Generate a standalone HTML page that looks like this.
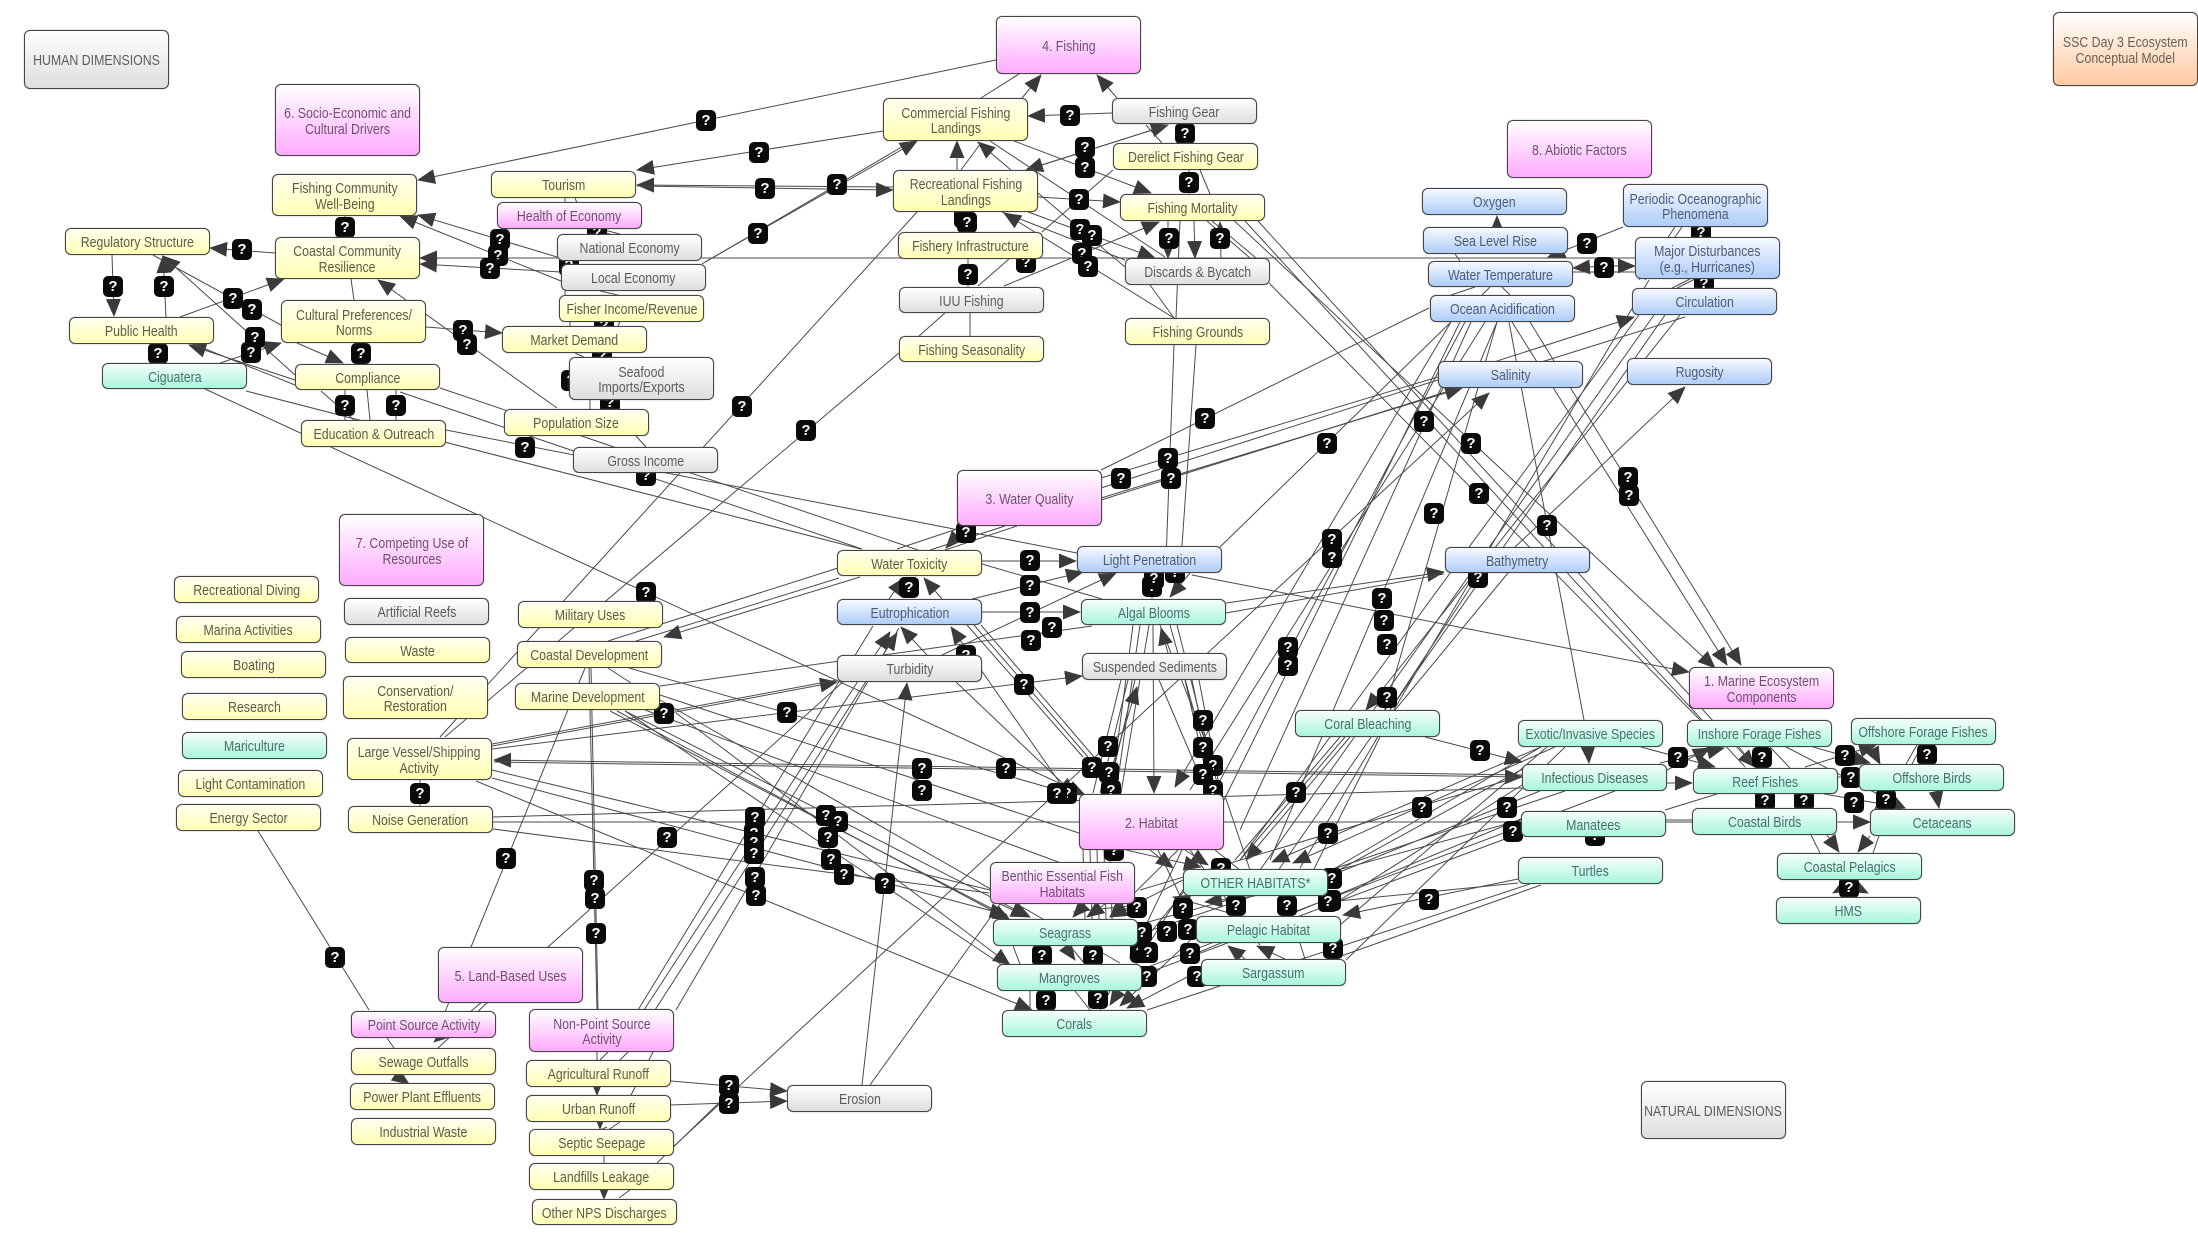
<!DOCTYPE html>
<html><head><meta charset="utf-8"><title>SSC Day 3 Ecosystem Conceptual Model</title>
<style>
html,body{margin:0;padding:0;background:#fff}
#c{position:relative;width:2198px;height:1238px;overflow:hidden;background:#fff;font-family:"Liberation Sans",sans-serif}
svg{position:absolute;left:0;top:0}
svg path.l{fill:none;stroke:#4a4a4a;stroke-width:1}
b{position:absolute;width:20px;height:21px;margin:-10px 0 0 -10px;background:#0a0a0a;border-radius:5px;color:#fff;font:bold 15px/21px "Liberation Sans",sans-serif;text-align:center}
.n{position:absolute;box-sizing:border-box;border:1px solid #444;border-radius:6px;display:flex;align-items:center;justify-content:center;text-align:center;font-family:"Liberation Sans",sans-serif;font-size:14.7px;line-height:15.5px;padding-top:5px;box-shadow:0 0 1px #777}
.n i{display:block;font-style:normal;white-space:nowrap;transform:scaleX(.84)}
.y{background:linear-gradient(#fffff0,#ffffb4);color:#5c5c48}
.g{background:linear-gradient(#fff,#dedede);color:#5c5c5c}
.t{background:linear-gradient(#f4fffa,#a9f5de);color:#47716a}
.u{background:linear-gradient(#f6f9ff,#aecdf9);color:#4c5c76}
.p{background:linear-gradient(#fff,#ffabff);color:#705070}
.o{background:linear-gradient(#fff,#ffc9a2);color:#6a6056}
</style></head><body><div id="c">
<svg width="2198" height="1238" viewBox="0 0 2198 1238">
<defs><marker id="a" markerUnits="userSpaceOnUse" markerWidth="18" markerHeight="15" refX="17" refY="7.5" orient="auto"><path d="M0 0L18 7.5L0 15z" fill="#3a3a3a"/></marker></defs>
<g>
<path class="l" marker-end="url(#a)" d="M996 60L418 180"/>
<path class="l" marker-end="url(#a)" d="M883 131L637 170"/>
<path class="l" marker-end="url(#a)" d="M893 187L637 185"/>
<path class="l" marker-end="url(#a)" d="M637 186L893 190"/>
<path class="l" marker-end="url(#a)" d="M705 262L917 141"/>
<path class="l" d="M702 264L912 141"/>
<path class="l" marker-end="url(#a)" d="M557 257L418 215"/>
<path class="l" marker-end="url(#a)" d="M561 281L400 216"/>
<path class="l" marker-end="url(#a)" d="M561 272L420 264"/>
<path class="l" marker-end="url(#a)" d="M1635 258L420 258"/>
<path class="l" marker-end="url(#a)" d="M275 253L210 248"/>
<path class="l" marker-end="url(#a)" d="M112 255L114 316"/>
<path class="l" marker-end="url(#a)" d="M166 317L163 256"/>
<path class="l" marker-end="url(#a)" d="M180 317L284 279"/>
<path class="l" marker-end="url(#a)" d="M295 375L163 256"/>
<path class="l" d="M153 255L281 325"/>
<path class="l" marker-end="url(#a)" d="M297 343L343 363"/>
<path class="l" marker-end="url(#a)" d="M220 363L281 343"/>
<path class="l" marker-end="url(#a)" d="M295 380L189 345"/>
<path class="l" d="M295 385L193 344"/>
<path class="l" d="M351 279L354 300"/>
<path class="l" d="M345 216L345 237"/>
<path class="l" d="M158 344L158 363"/>
<path class="l" marker-end="url(#a)" d="M426 327L502 333"/>
<path class="l" marker-end="url(#a)" d="M557 408L378 280"/>
<path class="l" d="M321 391L354 420M367 390L370 420M345 390L345 420M396 390L396 420"/>
<path class="l" d="M246 391L861 549"/>
<path class="l" d="M400 392L862 549"/>
<path class="l" d="M440 388L918 550"/>
<path class="l" d="M446 430L1077 553"/>
<path class="l" marker-end="url(#a)" d="M205 389L1085 795"/>
<path class="l" d="M565 198L565 202M575 198L590 234M590 229L610 234M600 229L620 234M565 291L565 300M570 322L570 330M600 291L640 300M620 322L610 340M610 353L600 360M590 400L590 410M575 353L590 360M636 436L646 447"/>
<!-- fishing -->
<path class="l" marker-end="url(#a)" d="M1022 98L1041 75"/>
<path class="l" d="M1019 74L981 98"/>
<path class="l" marker-end="url(#a)" d="M1117 98L1097 75"/>
<path class="l" marker-end="url(#a)" d="M1112 113L1028 116"/>
<path class="l" marker-end="url(#a)" d="M1026 170L1168 125"/>
<path class="l" marker-end="url(#a)" d="M1168 125L1026 170"/>
<path class="l" d="M1146 125L1162 143M1185 124L1185 143"/>
<path class="l" marker-end="url(#a)" d="M1014 141L1151 193"/>
<path class="l" d="M1189 170L1189 194M1200 170L1210 194"/>
<path class="l" marker-end="url(#a)" d="M1038 197L1120 202"/>
<path class="l" d="M1113 170L1042 232"/>
<path class="l" d="M1165 257L990 141"/>
<path class="l" marker-end="url(#a)" d="M1125 267L978 142"/>
<path class="l" marker-end="url(#a)" d="M957 170L957 141"/>
<path class="l" d="M961 170L981 143"/>
<path class="l" d="M1125 260L1002 212"/>
<path class="l" marker-end="url(#a)" d="M1174 318L1004 213"/>
<path class="l" marker-end="url(#a)" d="M1028 212L1155 258"/>
<path class="l" marker-end="url(#a)" d="M1194 221L1195 258"/>
<path class="l" marker-end="url(#a)" d="M1221 258L1220 222"/>
<path class="l" marker-end="url(#a)" d="M1168 221L1168 258"/>
<path class="l" marker-end="url(#a)" d="M1004 286L1159 222"/>
<path class="l" marker-end="url(#a)" d="M967 232L967 212"/>
<path class="l" d="M968 259L968 287M970 313L970 336M978 286L1009 259M919 336L945 313"/>
<path class="l" d="M1180 221L1176 318M1150 285L1174 318"/>
<path class="l" d="M1174 345L1166 560M1196 345L1181 560"/>
<path class="l" d="M917 212L440 737"/>
<path class="l" d="M899 353L445 737"/>
<path class="l" d="M1207 221L1250 258M1212 221L1256 258"/>
<!-- long right -->
<path class="l" marker-end="url(#a)" d="M1228 215L1715 668"/>
<path class="l" d="M1269 283L1700 720"/>
<path class="l" marker-end="url(#a)" d="M1258 221L1755 767"/>
<path class="l" d="M1245 221L1745 767"/>
<path class="l" marker-end="url(#a)" d="M1530 322L1741 665"/>
<path class="l" marker-end="url(#a)" d="M1512 322L1727 665"/>
<path class="l" d="M1509 322L1584 720"/>
<path class="l" marker-end="url(#a)" d="M1192 575L1689 672"/>
<path class="l" marker-end="url(#a)" d="M1515 547L1685 387"/>
<path class="l" d="M1220 547L1451 322"/>
<path class="l" d="M1101 470L1429 308"/>
<path class="l" d="M1101 478L1438 377"/>
<path class="l" marker-end="url(#a)" d="M1101 488L1634 317"/>
<path class="l" marker-end="url(#a)" d="M1101 498L1462 388"/>
<path class="l" d="M1101 500L1685 317"/>
<path class="l" marker-end="url(#a)" d="M673 1147L1489 393"/>
<!-- upper right -->
<path class="l" marker-end="url(#a)" d="M1497 227L1497 216"/>
<path class="l" marker-end="url(#a)" d="M1623 227L1548 257"/>
<path class="l" marker-end="url(#a)" d="M1604 266L1573 268"/>
<path class="l" marker-end="url(#a)" d="M1604 266L1635 266"/>
<path class="l" d="M1573 272L1635 272M1675 227L1639 280M1682 227L1645 280M1701 227L1701 237M1704 279L1704 288M1690 279L1672 288M1695 279L1677 288"/>
<path class="l" d="M1475 287L1451 295M1490 287L1482 295M1502 287L1510 295M1455 254L1460 261"/>
<path class="l" d="M1465 322L1215 790M1460 322L1224 800M1471 322L1240 830M1497 322L1270 860M1485 322L1190 790"/>
<path class="l" marker-end="url(#a)" d="M1451 322L1175 787"/>
<path class="l" marker-end="url(#a)" d="M1497 322L1385 710"/>
<path class="l" d="M1639 315L1240 860M1654 315L1260 870M1665 315L1275 875M1649 280L1300 868"/>
<path class="l" marker-end="url(#a)" d="M1680 315L1366 710"/>
<path class="l" d="M1480 573L1390 710M1508 573L1395 710"/>
<!-- water -->
<path class="l" d="M966 526L897 549"/>
<path class="l" marker-end="url(#a)" d="M966 526L946 548"/>
<path class="l" d="M1005 526L930 550M1017 526L945 550"/>
<path class="l" d="M838 568L608 641M839 578L636 641"/>
<path class="l" marker-end="url(#a)" d="M860 577L664 637"/>
<path class="l" marker-end="url(#a)" d="M492 746L837 682"/>
<path class="l" d="M492 744L837 680"/>
<path class="l" marker-end="url(#a)" d="M492 749L1082 676"/>
<path class="l" d="M660 686L1092 626"/>
<path class="l" d="M638 1010L873 626"/>
<path class="l" marker-end="url(#a)" d="M644 1010L890 632"/>
<path class="l" marker-end="url(#a)" d="M655 1010L897 633"/>
<path class="l" d="M676 1010L899 628"/>
<path class="l" marker-end="url(#a)" d="M927 655L901 627"/>
<path class="l" marker-end="url(#a)" d="M956 682L1075 795"/>
<path class="l" marker-end="url(#a)" d="M889 599L904 578"/>
<path class="l" marker-end="url(#a)" d="M942 599L924 578"/>
<path class="l" marker-end="url(#a)" d="M982 561L1076 561"/>
<path class="l" d="M982 564L1102 599"/>
<path class="l" marker-end="url(#a)" d="M972 599L1083 572"/>
<path class="l" marker-end="url(#a)" d="M982 612L1080 612"/>
<path class="l" marker-end="url(#a)" d="M942 655L1116 573"/>
<path class="l" d="M1152 573L1152 599"/>
<path class="l" marker-end="url(#a)" d="M1190 573L1170 597"/>
<path class="l" d="M967 625L1083 757M974 625L1088 757M981 625L1094 757"/>
<path class="l" marker-end="url(#a)" d="M1060 783L951 627"/>
<path class="l" d="M1133 625L1111 793M1140 625L1116 793M1149 625L1121 793M1170 625L1215 787M1177 625L1218 787M1160 625L1205 740"/>
<path class="l" marker-end="url(#a)" d="M1153 625L1154 793"/>
<path class="l" d="M1121 680L1093 793M1128 680L1100 793M1135 680L1108 793M1185 680L1210 790M1192 680L1215 790M1199 680L1220 790"/>
<path class="l" marker-end="url(#a)" d="M1168 653L1161 628"/>
<path class="l" marker-end="url(#a)" d="M1108 780L1137 687"/>
<path class="l" d="M1159 680L1196 767"/>
<path class="l" marker-end="url(#a)" d="M1226 603L1444 572"/>
<path class="l" d="M1226 613L1444 574"/>
<!-- left lower -->
<path class="l" d="M471 947L585 668"/>
<path class="l" marker-end="url(#a)" d="M548 947L434 1042"/>
<path class="l" d="M548 947L438 1048M548 947L845 680"/>
<path class="l" d="M471 947L445 1012"/>
<path class="l" d="M258 831L369 1010M387 1038L394 1048"/>
<path class="l" marker-end="url(#a)" d="M396 1075L409 1084"/>
<path class="l" d="M589 667L597 1010"/>
<path class="l" d="M591 667L598 1010"/>
<path class="l" d="M597 1052L597 1060M608 1052L600 1060M628 1052L620 1060M653 1052L630 1097"/>
<path class="l" marker-end="url(#a)" d="M597 1087L597 1095"/>
<path class="l" marker-end="url(#a)" d="M600 1122L600 1129"/>
<path class="l" d="M607 1127L600 1130M604 1156L604 1163M620 1122L608 1130"/>
<path class="l" marker-end="url(#a)" d="M604 1190L604 1199"/>
<path class="l" d="M619 1198L630 1190"/>
<path class="l" marker-end="url(#a)" d="M671 1081L787 1091"/>
<path class="l" marker-end="url(#a)" d="M670 1105L787 1101"/>
<path class="l" d="M657 1163L729 1093"/>
<path class="l" marker-end="url(#a)" d="M862 1085L907 683"/>
<path class="l" d="M870 1085L1000 904"/>
<path class="l" d="M420 780L420 806"/>
<path class="l" d="M610 711L1008 917"/>
<path class="l" marker-end="url(#a)" d="M617 711L1010 920"/>
<path class="l" marker-end="url(#a)" d="M625 711L1030 917"/>
<path class="l" d="M645 710L1080 870"/>
<path class="l" marker-end="url(#a)" d="M676 713L1010 965"/>
<path class="l" d="M629 668L1075 795M608 668L631 683"/>
<path class="l" marker-end="url(#a)" d="M1522 775L494 760"/>
<path class="l" marker-end="url(#a)" d="M494 762L1522 777"/>
<path class="l" d="M493 817L1522 788"/>
<path class="l" marker-end="url(#a)" d="M493 822L1870 822"/>
<path class="l" d="M493 829L989 893"/>
<path class="l" d="M492 770L990 890"/>
<path class="l" marker-end="url(#a)" d="M492 778L1007 915"/>
<path class="l" marker-end="url(#a)" d="M476 781L1032 1010"/>
<path class="l" d="M660 695L1079 833"/>
<path class="l" d="M660 700L1120 963"/>
<path class="l" d="M625 711L1002 965"/>
<!-- habitat cluster -->
<path class="l" d="M1083 850L1085 919M1090 850L1092 919M1097 850L1099 919M1104 850L1106 919M1110 850L1112 919"/>
<path class="l" marker-end="url(#a)" d="M1126 850L1201 867"/>
<path class="l" marker-end="url(#a)" d="M1150 850L1173 868"/>
<path class="l" marker-end="url(#a)" d="M1185 850L1208 865"/>
<path class="l" marker-end="url(#a)" d="M1178 850L1110 917"/>
<path class="l" marker-end="url(#a)" d="M1182 850L1130 958"/>
<path class="l" d="M1158 850L1187 910"/>
<path class="l" marker-end="url(#a)" d="M1350 737L1246 860"/>
<path class="l" d="M1345 737L1240 860M1340 737L1235 860"/>
<path class="l" d="M1380 737L1314 869"/>
<path class="l" marker-end="url(#a)" d="M1541 747L1272 862"/>
<path class="l" marker-end="url(#a)" d="M1555 747L1293 863"/>
<path class="l" d="M1225 796L1250 870M1215 850L1240 870M1225 860L1232 916M1190 850L1260 945"/>
<path class="l" d="M1137 905L1073 912"/>
<path class="l" marker-end="url(#a)" d="M1085 904L1073 917"/>
<path class="l" marker-end="url(#a)" d="M1105 904L1087 917"/>
<path class="l" marker-end="url(#a)" d="M1000 904L1028 917"/>
<path class="l" d="M1013 946L1020 964M1070 946L1085 964M1100 946L1100 964"/>
<path class="l" marker-end="url(#a)" d="M1065 946L1075 960"/>
<path class="l" d="M1030 991L1030 1010M1075 991L1090 1010M1110 991L1100 1010"/>
<path class="l" marker-end="url(#a)" d="M1183 890L1110 1005"/>
<path class="l" marker-end="url(#a)" d="M1196 935L1120 1006"/>
<path class="l" marker-end="url(#a)" d="M1201 970L1127 1008"/>
<path class="l" marker-end="url(#a)" d="M1190 884L1130 958"/>
<path class="l" marker-end="url(#a)" d="M1183 880L1110 917"/>
<path class="l" marker-end="url(#a)" d="M1255 896L1205 902"/>
<path class="l" marker-end="url(#a)" d="M1240 916L1173 897"/>
<path class="l" marker-end="url(#a)" d="M1245 959L1228 946"/>
<path class="l" marker-end="url(#a)" d="M1285 959L1257 946"/>
<path class="l" d="M1280 880L1305 959"/>
<!-- right fan -->
<path class="l" d="M1541 747L1327 873M1547 747L1340 925M1565 747L1346 960M1530 765L1330 875M1522 785L1340 900"/>
<path class="l" d="M1565 791L1137 935M1615 791L1140 970M1540 791L1320 880M1525 775L1140 890"/>
<path class="l" d="M1521 833L1142 975M1521 820L1137 925M1540 811L1180 960"/>
<path class="l" marker-end="url(#a)" d="M1518 879L1343 915"/>
<path class="l" d="M1518 883L1328 902M1541 885L1330 960M1530 884L1147 1010"/>
<path class="l" d="M1717 794L1665 810"/>
<path class="l" d="M1666 820L1692 820"/>
<!-- right nodes -->
<path class="l" marker-end="url(#a)" d="M1425 737L1522 762"/>
<path class="l" marker-end="url(#a)" d="M1588 747L1589 763"/>
<path class="l" marker-end="url(#a)" d="M1641 747L1715 767"/>
<path class="l" marker-end="url(#a)" d="M1667 770L1710 748"/>
<path class="l" marker-end="url(#a)" d="M1660 763L1724 748"/>
<path class="l" marker-end="url(#a)" d="M1667 783L1692 783"/>
<path class="l" d="M1762 747L1762 768M1739 747L1755 767M1770 747L1790 768"/>
<path class="l" marker-end="url(#a)" d="M1813 747L1870 763"/>
<path class="l" marker-end="url(#a)" d="M1805 767L1876 745"/>
<path class="l" marker-end="url(#a)" d="M1786 747L1905 808"/>
<path class="l" marker-end="url(#a)" d="M1824 794L1905 808"/>
<path class="l" d="M1906 764L1917 745M1912 764L1922 745M1927 745L1927 764"/>
<path class="l" marker-end="url(#a)" d="M1870 745L1880 764"/>
<path class="l" marker-end="url(#a)" d="M1936 791L1939 808"/>
<path class="l" d="M1838 777L1859 777"/>
<path class="l" marker-end="url(#a)" d="M1893 791L1875 809"/>
<path class="l" d="M1765 794L1765 808M1796 794L1804 808"/>
<path class="l" marker-end="url(#a)" d="M1837 822L1870 822"/>
<path class="l" marker-end="url(#a)" d="M1827 835L1839 852"/>
<path class="l" d="M1811 835L1820 853"/>
<path class="l" marker-end="url(#a)" d="M1870 836L1858 852"/>
<path class="l" d="M1879 836L1873 853"/>
<path class="l" marker-end="url(#a)" d="M1856 880L1833 893"/>
<path class="l" marker-end="url(#a)" d="M1842 880L1868 893"/>
</g>
</svg>
<b style="left:706px;top:120px">?</b><b style="left:759px;top:152px">?</b><b style="left:765px;top:188px">?</b><b style="left:837px;top:184px">?</b><b style="left:758px;top:233px">?</b>
<b style="left:500px;top:239px">?</b><b style="left:498px;top:255px">?</b><b style="left:490px;top:268px">?</b><b style="left:345px;top:227px">?</b><b style="left:242px;top:249px">?</b><b style="left:113px;top:286px">?</b><b style="left:164px;top:286px">?</b><b style="left:233px;top:298px">?</b><b style="left:252px;top:309px">?</b><b style="left:255px;top:337px">?</b><b style="left:251px;top:352px">?</b><b style="left:158px;top:353px">?</b><b style="left:345px;top:405px">?</b><b style="left:396px;top:405px">?</b><b style="left:463px;top:330px">?</b><b style="left:467px;top:344px">?</b><b style="left:525px;top:447px">?</b><b style="left:361px;top:353px">?</b>
<b style="left:597px;top:232px">?</b><b style="left:569px;top:265px">?</b><b style="left:604px;top:325px">?</b><b style="left:602px;top:355px">?</b><b style="left:571px;top:380px">?</b><b style="left:610px;top:402px">?</b><b style="left:646px;top:475px">?</b>
<b style="left:1085px;top:147px">?</b><b style="left:1085px;top:167px">?</b><b style="left:1070px;top:115px">?</b><b style="left:1185px;top:133px">?</b><b style="left:1189px;top:182px">?</b><b style="left:1079px;top:199px">?</b><b style="left:1080px;top:229px">?</b><b style="left:1092px;top:235px">?</b><b style="left:1082px;top:253px">?</b><b style="left:1088px;top:266px">?</b><b style="left:1169px;top:238px">?</b><b style="left:1220px;top:238px">?</b><b style="left:968px;top:274px">?</b><b style="left:1026px;top:262px">?</b><b style="left:964px;top:217px">?</b><b style="left:967px;top:222px">?</b><b style="left:742px;top:406px">?</b><b style="left:806px;top:430px">?</b><b style="left:1205px;top:418px">?</b><b style="left:1168px;top:458px">?</b><b style="left:1171px;top:478px">?</b><b style="left:1121px;top:478px">?</b><b style="left:1327px;top:443px">?</b><b style="left:1424px;top:421px">?</b><b style="left:1471px;top:443px">?</b><b style="left:1434px;top:513px">?</b><b style="left:1479px;top:493px">?</b><b style="left:1547px;top:525px">?</b><b style="left:1628px;top:477px">?</b><b style="left:1629px;top:495px">?</b>
<b style="left:1587px;top:243px">?</b><b style="left:1604px;top:267px">?</b><b style="left:1701px;top:232px">?</b><b style="left:1704px;top:283px">?</b>
<b style="left:966px;top:532px">?</b><b style="left:909px;top:587px">?</b><b style="left:1030px;top:560px">?</b><b style="left:1030px;top:585px">?</b><b style="left:1030px;top:612px">?</b><b style="left:1031px;top:640px">?</b><b style="left:1052px;top:627px">?</b><b style="left:1024px;top:684px">?</b><b style="left:966px;top:655px">?</b><b style="left:1152px;top:586px">?</b><b style="left:1175px;top:572px">?</b><b style="left:1154px;top:578px">?</b>
<b style="left:1332px;top:539px">?</b><b style="left:1332px;top:557px">?</b><b style="left:1288px;top:647px">?</b><b style="left:1288px;top:665px">?</b><b style="left:1382px;top:598px">?</b><b style="left:1384px;top:620px">?</b><b style="left:1387px;top:644px">?</b><b style="left:1387px;top:697px">?</b><b style="left:1478px;top:577px">?</b>
<b style="left:1108px;top:746px">?</b><b style="left:1203px;top:720px">?</b><b style="left:1203px;top:747px">?</b><b style="left:1213px;top:765px">?</b><b style="left:1203px;top:774px">?</b><b style="left:1213px;top:790px">?</b><b style="left:1092px;top:767px">?</b><b style="left:1109px;top:772px">?</b><b style="left:1111px;top:790px">?</b><b style="left:1067px;top:793px">?</b><b style="left:1057px;top:793px">?</b><b style="left:1114px;top:850px">?</b><b style="left:1296px;top:792px">?</b><b style="left:1328px;top:833px">?</b><b style="left:1422px;top:807px">?</b><b style="left:1507px;top:807px">?</b><b style="left:1513px;top:831px">?</b><b style="left:1429px;top:899px">?</b><b style="left:1480px;top:750px">?</b>
<b style="left:1221px;top:868px">?</b><b style="left:1332px;top:878px">?</b><b style="left:1331px;top:900px">?</b><b style="left:1333px;top:948px">?</b><b style="left:1328px;top:901px">?</b><b style="left:1287px;top:905px">?</b><b style="left:1236px;top:905px">?</b><b style="left:1183px;top:908px">?</b><b style="left:1137px;top:907px">?</b><b style="left:1167px;top:931px">?</b><b style="left:1188px;top:929px">?</b><b style="left:1142px;top:932px">?</b><b style="left:1042px;top:955px">?</b><b style="left:1093px;top:955px">?</b><b style="left:1140px;top:952px">?</b><b style="left:1148px;top:952px">?</b><b style="left:1190px;top:953px">?</b><b style="left:1147px;top:976px">?</b><b style="left:1197px;top:976px">?</b><b style="left:1046px;top:1000px">?</b><b style="left:1098px;top:998px">?</b>
<b style="left:826px;top:815px">?</b><b style="left:838px;top:821px">?</b><b style="left:828px;top:837px">?</b><b style="left:831px;top:859px">?</b><b style="left:844px;top:874px">?</b><b style="left:885px;top:883px">?</b><b style="left:922px;top:768px">?</b><b style="left:922px;top:790px">?</b><b style="left:1006px;top:768px">?</b>
<b style="left:755px;top:817px">?</b><b style="left:754px;top:833px">?</b><b style="left:754px;top:842px">?</b><b style="left:754px;top:853px">?</b><b style="left:755px;top:877px">?</b><b style="left:756px;top:895px">?</b><b style="left:664px;top:713px">?</b><b style="left:787px;top:712px">?</b><b style="left:420px;top:793px">?</b><b style="left:506px;top:858px">?</b><b style="left:667px;top:837px">?</b><b style="left:335px;top:957px">?</b><b style="left:594px;top:880px">?</b><b style="left:595px;top:898px">?</b><b style="left:596px;top:933px">?</b><b style="left:646px;top:592px">?</b><b style="left:729px;top:1085px">?</b><b style="left:729px;top:1103px">?</b>
<b style="left:1678px;top:757px">?</b><b style="left:1762px;top:757px">?</b><b style="left:1845px;top:755px">?</b><b style="left:1927px;top:754px">?</b><b style="left:1851px;top:777px">?</b><b style="left:1854px;top:802px">?</b><b style="left:1886px;top:799px">?</b><b style="left:1765px;top:800px">?</b><b style="left:1804px;top:800px">?</b><b style="left:1849px;top:887px">?</b><b style="left:1595px;top:835px">?</b>

<div class="n g" style="left:24px;top:30px;width:145px;height:59px"><i>HUMAN DIMENSIONS</i></div>
<div class="n p" style="left:275px;top:84px;width:145px;height:72px"><i>6. Socio-Economic and<br>Cultural Drivers</i></div>
<div class="n y" style="left:272px;top:174px;width:145px;height:42px"><i>Fishing Community<br>Well-Being</i></div>
<div class="n y" style="left:491px;top:171px;width:145px;height:27px"><i>Tourism</i></div>
<div class="n p" style="left:497px;top:202px;width:145px;height:27px"><i>Health of Economy</i></div>
<div class="n g" style="left:557px;top:234px;width:145px;height:27px"><i>National Economy</i></div>
<div class="n g" style="left:561px;top:264px;width:145px;height:27px"><i>Local Economy</i></div>
<div class="n y" style="left:559px;top:295px;width:145px;height:27px"><i>Fisher Income/Revenue</i></div>
<div class="n y" style="left:502px;top:326px;width:145px;height:27px"><i>Market Demand</i></div>
<div class="n g" style="left:569px;top:357px;width:145px;height:43px"><i>Seafood<br>Imports/Exports</i></div>
<div class="n y" style="left:504px;top:409px;width:145px;height:27px"><i>Population Size</i></div>
<div class="n g" style="left:573px;top:447px;width:145px;height:26px"><i>Gross Income</i></div>
<div class="n y" style="left:65px;top:228px;width:145px;height:27px"><i>Regulatory Structure</i></div>
<div class="n y" style="left:275px;top:237px;width:145px;height:42px"><i>Coastal Community<br>Resilience</i></div>
<div class="n y" style="left:69px;top:317px;width:145px;height:27px"><i>Public Health</i></div>
<div class="n y" style="left:281px;top:300px;width:145px;height:43px"><i>Cultural Preferences/<br>Norms</i></div>
<div class="n t" style="left:102px;top:363px;width:145px;height:26px"><i>Ciguatera</i></div>
<div class="n y" style="left:295px;top:364px;width:145px;height:26px"><i>Compliance</i></div>
<div class="n y" style="left:301px;top:420px;width:145px;height:27px"><i>Education &amp; Outreach</i></div>
<div class="n p" style="left:996px;top:16px;width:145px;height:58px"><i>4. Fishing</i></div>
<div class="n y" style="left:883px;top:98px;width:145px;height:43px"><i>Commercial Fishing<br>Landings</i></div>
<div class="n g" style="left:1112px;top:98px;width:145px;height:26px"><i>Fishing Gear</i></div>
<div class="n y" style="left:1113px;top:143px;width:145px;height:27px"><i>Derelict Fishing Gear</i></div>
<div class="n y" style="left:893px;top:170px;width:145px;height:42px"><i>Recreational Fishing<br>Landings</i></div>
<div class="n y" style="left:1120px;top:194px;width:145px;height:27px"><i>Fishing Mortality</i></div>
<div class="n y" style="left:898px;top:232px;width:145px;height:27px"><i>Fishery Infrastructure</i></div>
<div class="n g" style="left:1125px;top:258px;width:145px;height:27px"><i>Discards &amp; Bycatch</i></div>
<div class="n g" style="left:899px;top:287px;width:145px;height:26px"><i>IUU Fishing</i></div>
<div class="n y" style="left:1125px;top:318px;width:145px;height:27px"><i>Fishing Grounds</i></div>
<div class="n y" style="left:899px;top:336px;width:145px;height:26px"><i>Fishing Seasonality</i></div>
<div class="n p" style="left:957px;top:470px;width:145px;height:56px"><i>3. Water Quality</i></div>
<div class="n o" style="left:2053px;top:12px;width:145px;height:74px"><i>SSC Day 3 Ecosystem<br>Conceptual Model</i></div>
<div class="n p" style="left:1507px;top:120px;width:145px;height:58px"><i>8. Abiotic Factors</i></div>
<div class="n u" style="left:1422px;top:188px;width:145px;height:27px"><i>Oxygen</i></div>
<div class="n u" style="left:1423px;top:227px;width:145px;height:27px"><i>Sea Level Rise</i></div>
<div class="n u" style="left:1428px;top:261px;width:145px;height:26px"><i>Water Temperature</i></div>
<div class="n u" style="left:1430px;top:295px;width:145px;height:27px"><i>Ocean Acidification</i></div>
<div class="n u" style="left:1623px;top:184px;width:145px;height:43px"><i>Periodic Oceanographic<br>Phenomena</i></div>
<div class="n u" style="left:1635px;top:237px;width:145px;height:42px"><i>Major Disturbances<br>(e.g., Hurricanes)</i></div>
<div class="n u" style="left:1632px;top:288px;width:145px;height:27px"><i>Circulation</i></div>
<div class="n u" style="left:1438px;top:361px;width:145px;height:27px"><i>Salinity</i></div>
<div class="n u" style="left:1627px;top:358px;width:145px;height:27px"><i>Rugosity</i></div>
<div class="n p" style="left:339px;top:514px;width:145px;height:72px"><i>7. Competing Use of<br>Resources</i></div>
<div class="n y" style="left:174px;top:576px;width:145px;height:27px"><i>Recreational Diving</i></div>
<div class="n y" style="left:176px;top:616px;width:145px;height:27px"><i>Marina Activities</i></div>
<div class="n y" style="left:181px;top:651px;width:145px;height:27px"><i>Boating</i></div>
<div class="n y" style="left:182px;top:693px;width:145px;height:27px"><i>Research</i></div>
<div class="n t" style="left:182px;top:732px;width:145px;height:27px"><i>Mariculture</i></div>
<div class="n y" style="left:178px;top:770px;width:145px;height:27px"><i>Light Contamination</i></div>
<div class="n y" style="left:176px;top:804px;width:145px;height:27px"><i>Energy Sector</i></div>
<div class="n g" style="left:344px;top:598px;width:145px;height:27px"><i>Artificial Reefs</i></div>
<div class="n y" style="left:345px;top:637px;width:145px;height:26px"><i>Waste</i></div>
<div class="n y" style="left:343px;top:676px;width:145px;height:43px"><i>Conservation/<br>Restoration</i></div>
<div class="n y" style="left:347px;top:738px;width:145px;height:42px"><i>Large Vessel/Shipping<br>Activity</i></div>
<div class="n y" style="left:348px;top:806px;width:145px;height:27px"><i>Noise Generation</i></div>
<div class="n y" style="left:518px;top:601px;width:145px;height:27px"><i>Military Uses</i></div>
<div class="n y" style="left:517px;top:641px;width:145px;height:27px"><i>Coastal Development</i></div>
<div class="n y" style="left:515px;top:683px;width:145px;height:27px"><i>Marine Development</i></div>
<div class="n p" style="left:438px;top:947px;width:145px;height:56px"><i>5. Land-Based Uses</i></div>
<div class="n y" style="left:837px;top:550px;width:145px;height:26px"><i>Water Toxicity</i></div>
<div class="n u" style="left:837px;top:599px;width:145px;height:26px"><i>Eutrophication</i></div>
<div class="n g" style="left:837px;top:655px;width:145px;height:27px"><i>Turbidity</i></div>
<div class="n u" style="left:1077px;top:546px;width:145px;height:27px"><i>Light Penetration</i></div>
<div class="n t" style="left:1081px;top:599px;width:145px;height:26px"><i>Algal Blooms</i></div>
<div class="n g" style="left:1082px;top:653px;width:145px;height:27px"><i>Suspended Sediments</i></div>
<div class="n t" style="left:1295px;top:710px;width:145px;height:27px"><i>Coral Bleaching</i></div>
<div class="n p" style="left:1079px;top:794px;width:145px;height:56px"><i>2. Habitat</i></div>
<div class="n p" style="left:990px;top:862px;width:145px;height:42px"><i>Benthic Essential Fish<br>Habitats</i></div>
<div class="n t" style="left:1183px;top:869px;width:145px;height:27px"><i>OTHER HABITATS*</i></div>
<div class="n t" style="left:993px;top:919px;width:145px;height:27px"><i>Seagrass</i></div>
<div class="n t" style="left:1196px;top:916px;width:145px;height:27px"><i>Pelagic Habitat</i></div>
<div class="n t" style="left:997px;top:964px;width:145px;height:27px"><i>Mangroves</i></div>
<div class="n t" style="left:1201px;top:959px;width:145px;height:27px"><i>Sargassum</i></div>
<div class="n t" style="left:1002px;top:1010px;width:145px;height:27px"><i>Corals</i></div>
<div class="n u" style="left:1445px;top:547px;width:145px;height:26px"><i>Bathymetry</i></div>
<div class="n p" style="left:1689px;top:667px;width:145px;height:42px"><i>1. Marine Ecosystem<br>Components</i></div>
<div class="n t" style="left:1518px;top:720px;width:145px;height:27px"><i>Exotic/Invasive Species</i></div>
<div class="n t" style="left:1687px;top:720px;width:145px;height:27px"><i>Inshore Forage Fishes</i></div>
<div class="n t" style="left:1851px;top:718px;width:145px;height:27px"><i>Offshore Forage Fishes</i></div>
<div class="n t" style="left:1522px;top:764px;width:145px;height:27px"><i>Infectious Diseases</i></div>
<div class="n t" style="left:1693px;top:768px;width:145px;height:26px"><i>Reef Fishes</i></div>
<div class="n t" style="left:1859px;top:764px;width:145px;height:27px"><i>Offshore Birds</i></div>
<div class="n t" style="left:1521px;top:811px;width:145px;height:26px"><i>Manatees</i></div>
<div class="n t" style="left:1692px;top:808px;width:145px;height:27px"><i>Coastal Birds</i></div>
<div class="n t" style="left:1870px;top:809px;width:145px;height:27px"><i>Cetaceans</i></div>
<div class="n t" style="left:1518px;top:857px;width:145px;height:27px"><i>Turtles</i></div>
<div class="n t" style="left:1777px;top:853px;width:145px;height:27px"><i>Coastal Pelagics</i></div>
<div class="n t" style="left:1776px;top:897px;width:145px;height:27px"><i>HMS</i></div>
<div class="n g" style="left:1641px;top:1081px;width:145px;height:58px"><i>NATURAL DIMENSIONS</i></div>
<div class="n p" style="left:351px;top:1011px;width:145px;height:27px"><i>Point Source Activity</i></div>
<div class="n y" style="left:351px;top:1048px;width:145px;height:27px"><i>Sewage Outfalls</i></div>
<div class="n y" style="left:350px;top:1083px;width:145px;height:27px"><i>Power Plant Effluents</i></div>
<div class="n y" style="left:351px;top:1118px;width:145px;height:27px"><i>Industrial Waste</i></div>
<div class="n p" style="left:529px;top:1009px;width:145px;height:43px"><i>Non-Point Source<br>Activity</i></div>
<div class="n y" style="left:526px;top:1060px;width:145px;height:27px"><i>Agricultural Runoff</i></div>
<div class="n y" style="left:526px;top:1095px;width:145px;height:27px"><i>Urban Runoff</i></div>
<div class="n y" style="left:529px;top:1129px;width:145px;height:27px"><i>Septic Seepage</i></div>
<div class="n y" style="left:529px;top:1163px;width:145px;height:27px"><i>Landfills Leakage</i></div>
<div class="n y" style="left:532px;top:1199px;width:145px;height:26px"><i>Other NPS Discharges</i></div>
<div class="n g" style="left:787px;top:1085px;width:145px;height:27px"><i>Erosion</i></div>
</div></body></html>
